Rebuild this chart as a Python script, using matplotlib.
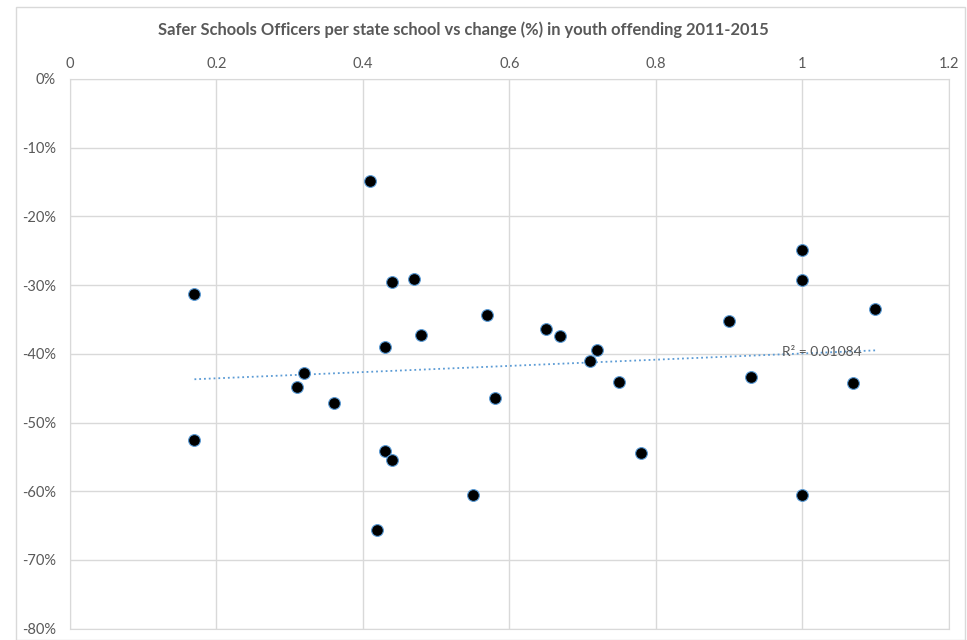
import numpy as np
import matplotlib.pyplot as plt
from matplotlib.ticker import FuncFormatter
from matplotlib.patches import Rectangle

# officers per state school (x) vs change in youth offending, % (y)
officers = [0.17, 0.17, 0.31, 0.32, 0.36, 0.41, 0.42, 0.43, 0.43, 0.44,
            0.44, 0.47, 0.48, 0.55, 0.57, 0.58, 0.65, 0.67, 0.71, 0.72,
            0.75, 0.78, 0.90, 0.93, 1.00, 1.00, 1.00, 1.07, 1.10]
change = [-31.3, -52.6, -44.8, -42.8, -47.1, -14.9, -65.6, -39.0, -54.2, -29.6,
          -55.5, -29.1, -37.2, -60.6, -34.3, -46.5, -36.4, -37.4, -41.1, -39.4,
          -44.1, -54.5, -35.3, -43.4, -24.9, -29.3, -60.5, -44.2, -33.5]
x_ticks = [0, 0.2, 0.4, 0.6, 0.8, 1.0, 1.2]
y_ticks = [0, -10, -20, -30, -40, -50, -60, -70, -80]
title = 'Safer Schools Officers per state school vs change (%) in youth offending 2011-2015'
r2_label = 'R² = 0.01084'

plt.rcParams['font.family'] = ['Lato', 'DejaVu Sans']
grey = '#595959'
grid = '#d9d9d9'

fig = plt.figure(figsize=(9.67, 6.4), dpi=100)
ax = fig.add_axes([70 / 967, 1 - 628.7 / 640, 878.5 / 967, 549.8 / 640])

# outer chart border
fig.patches.append(Rectangle((16 / 967, 0), 949 / 967, 1 - 7 / 640,
                             transform=fig.transFigure, fill=False,
                             edgecolor=grid, linewidth=1))

x = np.array(officers)
y = np.array(change)

# linear trendline over the data range
slope, icpt = np.polyfit(x, y, 1)
xs = np.array([x.min(), x.max()])
ax.plot(xs, slope * xs + icpt, linestyle=':', color='#5b9bd5', linewidth=1.3, zorder=2)

ax.scatter(x, y, s=72, color='black', edgecolors='#5b9bd5', linewidths=0.8, zorder=3)

ax.text(1.027, slope * 1.027 + icpt + 0.1, r2_label, ha='center', va='center',
        fontsize=10, color=grey, zorder=4)

ax.set_xlim(0, 1.2)
ax.set_ylim(-80, 0)
ax.set_xticks(x_ticks)
ax.set_yticks(y_ticks)
ax.xaxis.set_major_formatter(FuncFormatter(lambda v, p: '%g' % v))
ax.yaxis.set_major_formatter(FuncFormatter(lambda v, p: '%d%%' % round(v)))
ax.xaxis.tick_top()
ax.tick_params(length=0, labelsize=10.5, labelcolor=grey)
ax.tick_params(axis='x', pad=6)
ax.tick_params(axis='y', pad=10)
ax.grid(True, color=grid, linewidth=1)
ax.set_axisbelow(True)
for s in ax.spines.values():
    s.set_color(grid)

fig.text(463 / 967, 1 - 30 / 640, title, ha='center', va='center',
         fontsize=11.9, fontweight='bold', color=grey)

fig.savefig('out.png', dpi=100)
